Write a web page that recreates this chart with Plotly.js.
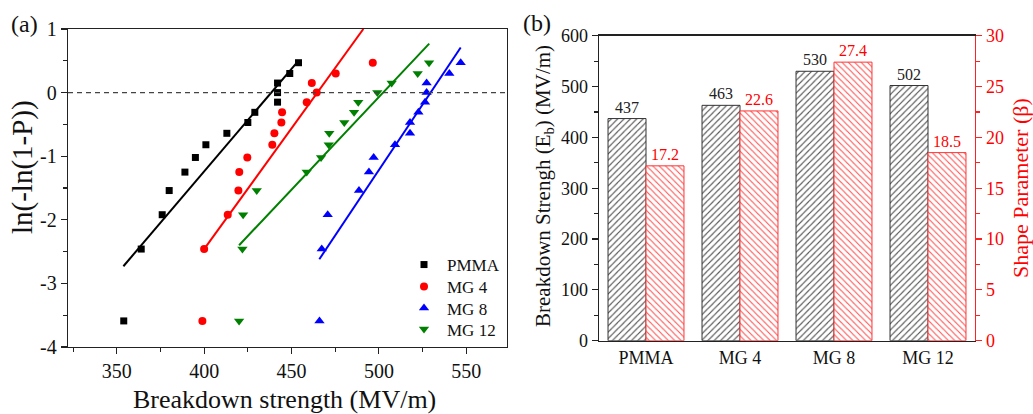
<!DOCTYPE html>
<html>
<head>
<meta charset="utf-8">
<script src="https://cdn.plot.ly/plotly-3.0.1.min.js"></script>
<style>html,body{margin:0;padding:0;background:#fff}#chart{width:1033px;height:414px}</style>
</head>
<body>
<div id="chart"></div>
<script>
// ---- Panel (a): Weibull plot ----
const weibY = [-3.59, -2.46, -1.92, -1.54, -1.25, -1.02, -0.82, -0.64, -0.47, -0.31, -0.15, 0.0, 0.15, 0.30, 0.47];
const pmmaX = [354, 364, 376, 380, 389, 395, 401, 413, 425, 429, 442, 442, 442, 449, 454];
const mg4X  = [399, 400, 413.5, 419.6, 420.1, 424.7, 439, 440.2, 444.2, 444.6, 458.7, 464.4, 461.6, 475.3, 496.5];
const mg8X  = [466, 467.3, 470.7, 488.6, 494.3, 497.0, 509.2, 517.8, 517.8, 522.6, 526.4, 527.3, 527.3, 540.3, 546.8];
const mg12X = [420.0, 421.9, 422.3, 430.1, 458.7, 466.9, 471.3, 471.6, 480.2, 485.8, 488.2, 499.1, 507.3, 522.2, 528.7];

const fitPmmaX = [353.8, 453.9], fitPmmaY = [-2.73, 0.50];
const fitMg4X  = [400.3, 491.1], fitMg4Y  = [-2.45, 1.00];
const fitMg8X  = [465.9, 546.8], fitMg8Y  = [-2.62, 0.71];
const fitMg12X = [420.0, 528.8], fitMg12Y = [-2.40, 0.77];

const seriesNames = ['PMMA', 'MG 4', 'MG 8', 'MG 12'];
const yTickVals = [-4, -3, -2, -1, 0, 1];
const yTickText = ['-4', '-3', '-2', '-1', '0', '1'];
const yMinorVals = [-3.5, -2.5, -1.5, -0.5, 0.5];

// ---- Panel (b): bars ----
const categories = ['PMMA', 'MG 4', 'MG 8', 'MG 12'];
const breakdownEb = [437, 463, 530, 502];
const shapeBeta = [17.2, 22.6, 27.4, 18.5];

const FONT = 'Liberation Serif';
const W = 1033, H = 414;
const px = v => v / W;
const py = v => 1 - v / H;

const colors = ['#000000', '#ff0000', '#0000ff', '#008000'];
const symbols = ['square', 'circle', 'triangle-up', 'triangle-down'];
const sizes = [7, 8, 9, 9];
const xs = [pmmaX, mg4X, mg8X, mg12X];
const fitsX = [fitPmmaX, fitMg4X, fitMg8X, fitMg12X];
const fitsY = [fitPmmaY, fitMg4Y, fitMg8Y, fitMg12Y];
const legendIds = ['legend', 'legend2', 'legend3', 'legend4'];
const legendRowY = [265, 287, 308.5, 329.5];

const traces = [];
for (let i = 0; i < 4; i++) {
  traces.push({
    type: 'scatter', mode: 'markers', x: xs[i], y: weibY, name: seriesNames[i],
    xaxis: 'x', yaxis: 'y', legend: legendIds[i],
    marker: {symbol: symbols[i], size: sizes[i], color: colors[i], line: {width: 0}},
    cliponaxis: false
  });
}
for (let i = 0; i < 4; i++) {
  traces.push({
    type: 'scatter', mode: 'lines', x: fitsX[i], y: fitsY[i], showlegend: false,
    xaxis: 'x', yaxis: 'y', line: {color: colors[i], width: 2}, hoverinfo: 'skip'
  });
}
const BW = 0.404;
traces.push({
  type: 'bar', x: categories, y: breakdownEb, xaxis: 'x2', yaxis: 'y2', showlegend: false,
  width: BW, offset: -BW,
  text: breakdownEb.map(String), textposition: 'outside',
  textfont: {family: FONT, size: 16, color: '#222'},
  marker: {color: '#ffffff', line: {color: '#333333', width: 1},
           pattern: {shape: '/', fgcolor: '#555555', bgcolor: '#ffffff', size: 4.5, solidity: 0.25}},
  cliponaxis: false
});
traces.push({
  type: 'bar', x: categories, y: shapeBeta, xaxis: 'x2', yaxis: 'y3', showlegend: false,
  width: BW, offset: 0,
  text: shapeBeta.map(v => v.toFixed(1)), textposition: 'outside',
  textfont: {family: FONT, size: 16, color: '#ff0000'},
  marker: {color: '#ffffff', line: {color: '#ff3333', width: 1},
           pattern: {shape: '\\', fgcolor: '#ff5555', bgcolor: '#ffffff', size: 4.5, solidity: 0.25}},
  cliponaxis: false
});

const axBase = {
  showgrid: false, zeroline: false, showline: true, linecolor: '#222', linewidth: 1.3,
  ticks: 'outside', ticklen: 6, tickwidth: 1.2, tickcolor: '#222',
  tickfont: {family: FONT, size: 20, color: '#111'}
};

function legendAt(rowY) {
  return {x: px(401), y: py(rowY), xanchor: 'left', yanchor: 'middle',
          font: {family: FONT, size: 17, color: '#111'}, bgcolor: 'rgba(0,0,0,0)',
          itemwidth: 36, borderwidth: 0};
}

const layout = {
  width: W, height: H, margin: {l: 0, r: 0, t: 0, b: 0},
  paper_bgcolor: '#fff', plot_bgcolor: 'rgba(0,0,0,0)',
  font: {family: FONT},
  showlegend: true,
  legend: legendAt(legendRowY[0]),
  legend2: legendAt(legendRowY[1]),
  legend3: legendAt(legendRowY[2]),
  legend4: legendAt(legendRowY[3]),
  xaxis: Object.assign({}, axBase, {
    domain: [px(68), px(507)], anchor: 'y', range: [322.1, 573.3],
    dtick: 50, tick0: 350, mirror: true,
    minor: {dtick: 25, tick0: 350, ticklen: 4, ticks: 'outside', tickcolor: '#222', tickwidth: 1.1}
  }),
  yaxis: Object.assign({}, axBase, {
    domain: [py(347), py(29)], anchor: 'x', range: [-4, 1],
    tickmode: 'array', tickvals: yTickVals, ticktext: yTickText, mirror: true,
    minor: {tickmode: 'array', tickvals: yMinorVals, ticklen: 4, ticks: 'outside', tickcolor: '#222', tickwidth: 1.1}
  }),
  xaxis2: Object.assign({}, axBase, {
    domain: [px(599), px(975)], anchor: 'y2', type: 'category', range: [-0.5, 3.5],
    ticks: '', mirror: true, tickfont: {family: FONT, size: 18, color: '#111'}
  }),
  yaxis2: Object.assign({}, axBase, {
    domain: [py(340.7), py(35.7)], anchor: 'x2', range: [0, 600], dtick: 100,
    tickfont: {family: FONT, size: 18, color: '#111'},
    minor: {dtick: 50, ticklen: 4, ticks: 'outside', tickcolor: '#222', tickwidth: 1.1}
  }),
  yaxis3: Object.assign({}, axBase, {
    overlaying: 'y2', side: 'right', anchor: 'x2', range: [0, 30], dtick: 5,
    linecolor: '#ff2222', tickcolor: '#ff2222',
    tickfont: {family: FONT, size: 18, color: '#ff0000'},
    minor: {dtick: 2.5, ticklen: 4, ticks: 'outside', tickcolor: '#ff2222', tickwidth: 1.1}
  }),
  shapes: [{
    type: 'line', xref: 'x domain', yref: 'y', x0: 0, x1: 1, y0: 0, y1: 0,
    line: {color: '#444', width: 1.2, dash: '5px,4px'}
  }],
  annotations: [
    {text: '(a)', x: px(24), y: py(24)},
    {text: '(b)', x: px(537), y: py(23)},
    {text: 'ln(-ln(1-P))', x: px(22), y: py(167), textangle: -90, size: 29},
    {text: 'Breakdown strength (MV/m)', x: px(284), y: py(399), size: 26},
    {text: 'Breakdown Strengh (E<sub>b</sub>) (MV/m)', x: px(544), y: py(186), textangle: -90, size: 21},
    {text: 'Shape Parameter (β)', x: px(1020), y: py(188), textangle: -90, size: 22, color: '#ff0000'}
  ].map(a => ({
    text: a.text, xref: 'paper', yref: 'paper', x: a.x, y: a.y, showarrow: false,
    xanchor: 'center', yanchor: 'middle', textangle: a.textangle || 0,
    font: {family: FONT, size: a.size || 24, color: a.color || '#111'}
  }))
};

Plotly.newPlot('chart', traces, layout, {displayModeBar: false, staticPlot: true});
</script>
</body>
</html>
